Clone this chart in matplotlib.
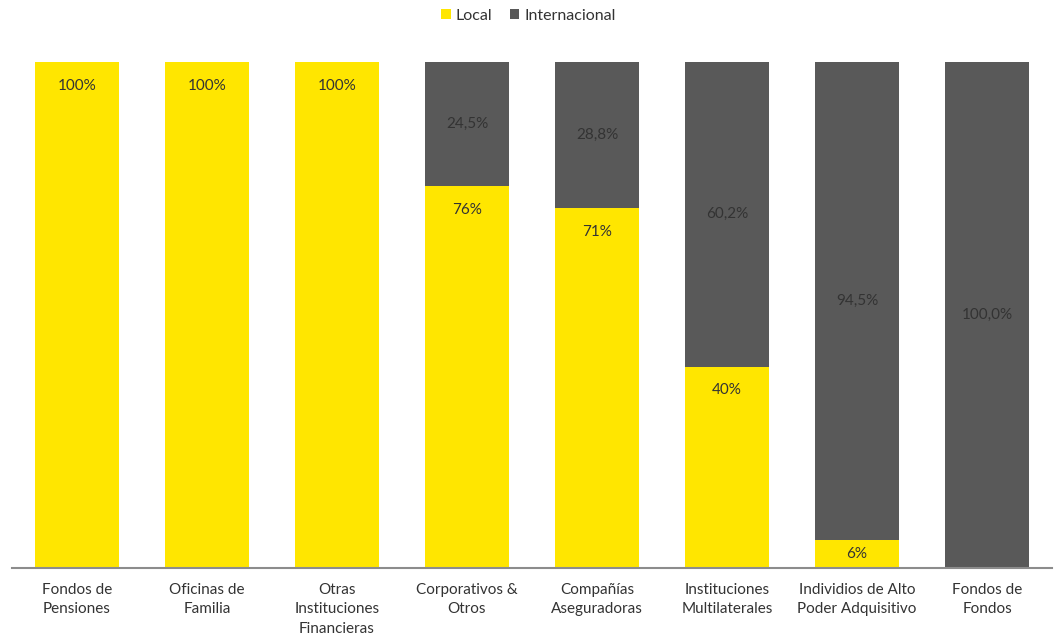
import matplotlib.pyplot as plt
import numpy as np

plt.rcParams['font.family'] = ['Lato', 'DejaVu Sans']

# Categories and shares (%) for each investor type
categorias = ['Fondos de\nPensiones', 'Oficinas de\nFamilia', 'Otras\nInstituciones\nFinancieras',
              'Corporativos &\nOtros', 'Compañías\nAseguradoras', 'Instituciones\nMultilaterales',
              'Individios de Alto\nPoder Adquisitivo', 'Fondos de\nFondos']
local = [100, 100, 100, 75.5, 71.2, 39.8, 5.5, 0]
internacional = [0, 0, 0, 24.5, 28.8, 60.2, 94.5, 100.0]

amarillo = '#FFE600'
gris = '#595959'
texto = '#333333'

W, H = 1057, 637
fig = plt.figure(figsize=(W / 100, H / 100), dpi=100)
ax = fig.add_axes([12 / W, (H - 568) / H, 1040 / W, 506 / H])

x = np.arange(len(categorias))
ancho = 0.646
b1 = ax.bar(x, local, ancho, color=amarillo, label='Local')
b2 = ax.bar(x, internacional, ancho, bottom=local, color=gris, label='Internacional')

# value labels: local near the top of the segment, internacional centered
for i, (l, it) in enumerate(zip(local, internacional)):
    if l > 0:
        y = max(l / 2, l - 4.7)
        ax.text(i, y, '{:.0f}%'.format(l), ha='center', va='center', fontsize=11, color=texto)
    if it > 0:
        ax.text(i, l + it / 2, '{:.1f}%'.format(it).replace('.', ','), ha='center', va='center',
                fontsize=11, color=texto)

ax.set_xlim(-0.5, len(categorias) - 0.5)
ax.set_ylim(0, 100)
ax.set_yticks([])
ax.set_xticks(x)
ax.set_xticklabels(categorias, fontsize=11, color=texto, linespacing=1.5)
ax.tick_params(axis='x', length=0, pad=10.5)
for s in ['top', 'right', 'left']:
    ax.spines[s].set_visible(False)
ax.spines['bottom'].set_color('#8c8c8c')
ax.spines['bottom'].set_linewidth(1.5)

fig.legend(handles=[b1, b2], labels=['Local', 'Internacional'], loc='center',
           bbox_to_anchor=(0.5, 1 - 16 / H), ncol=2, frameon=False, fontsize=11.5,
           handlelength=0.6, handleheight=0.6, handletextpad=0.3, columnspacing=1.1,
           labelcolor=texto)

fig.savefig('out.png', dpi=100)
